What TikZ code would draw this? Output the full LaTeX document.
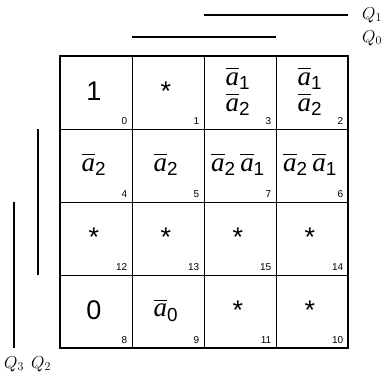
\documentclass[tikz,border=0pt]{standalone}
\usepackage{amsmath}
\usepackage{fontspec}
\setmainfont{Liberation Serif}
\setsansfont{Liberation Sans}
\usetikzlibrary{positioning, calc}

\tikzset{
  cellbox/.style={draw, line width=0.8pt, minimum width=72pt, minimum height=73pt, inner sep=0pt},
  entry/.style={font=\fontsize{27}{24}\selectfont, inner sep=0pt},
  idx/.style={font=\sffamily\fontsize{10}{11}\selectfont, anchor=south east, inner sep=5pt},
  bar/.style={line width=2pt},
  qlab/.style={font=\fontsize{18}{18}\selectfont, inner sep=1pt}
}
\newcommand{\abar}[1]{$\overline{\text{\itshape a}}_{\text{\sffamily #1}}$}

\begin{document}
\begin{tikzpicture}[x=1pt,y=-1pt]
\useasboundingbox (0,0) rectangle (384,378);
% cells of the map
\foreach \row [count=\i from 0] in {{{\sffamily 1},{\sffamily *},{},{}},{{\abar{2}},{\abar{2}},{\abar{2}\,\abar{1}},{\abar{2}\,\abar{1}}},{{\sffamily *},{\sffamily *},{\sffamily *},{\sffamily *}},{{\sffamily 0},{\abar{0}},{\sffamily *},{\sffamily *}}} {
  \foreach \val [count=\j from 0] in \row {
    \node[cellbox] (cell-\i-\j) at (96+72*\j, 92.5+73*\i) {};
    \node[entry] (val-\i-\j) at ($(cell-\i-\j.center)+(-2,-1)$) {\val};
  }
}
% stacked entries in cells 3 and 2
\foreach \j in {2,3} {
  \node[entry] (up-\j) at ($(cell-0-\j.center)+(-2,-14)$) {\abar{1}};
  \node[entry] (lo-\j) at ($(cell-0-\j.center)+(-2,12)$) {\abar{2}};
}
% minterm numbers
\foreach \idxrow [count=\i from 0] in {{0,1,3,2},{4,5,7,6},{12,13,15,14},{8,9,11,10}} {
  \foreach \num [count=\j from 0] in \idxrow
    \node[idx] at (cell-\i-\j.south east) {\num};
}
\draw[line width=2pt] (cell-0-0.north west) rectangle (cell-3-3.south east);
% variable bars
\draw[bar] (cell-0-2.north west |- 0,15) -- (cell-0-3.north east |- 0,15);
\node[qlab] (q1) at (372,15) {$Q_1$};
\draw[bar] (cell-0-1.north west |- 0,37) -- (cell-0-2.north east |- 0,37);
\node[qlab] (q0) at (372,38) {$Q_0$};
\draw[bar] (cell-1-0.north west -| 38,0) -- (cell-2-0.south west -| 38,0);
\draw[bar] (cell-2-0.north west -| 14,0) -- (cell-3-0.south west -| 14,0);
\node[qlab] (q3) at (14,364) {$Q_3$};
\node[qlab] (q2) at (41,364) {$Q_2$};
\end{tikzpicture}
\end{document}
